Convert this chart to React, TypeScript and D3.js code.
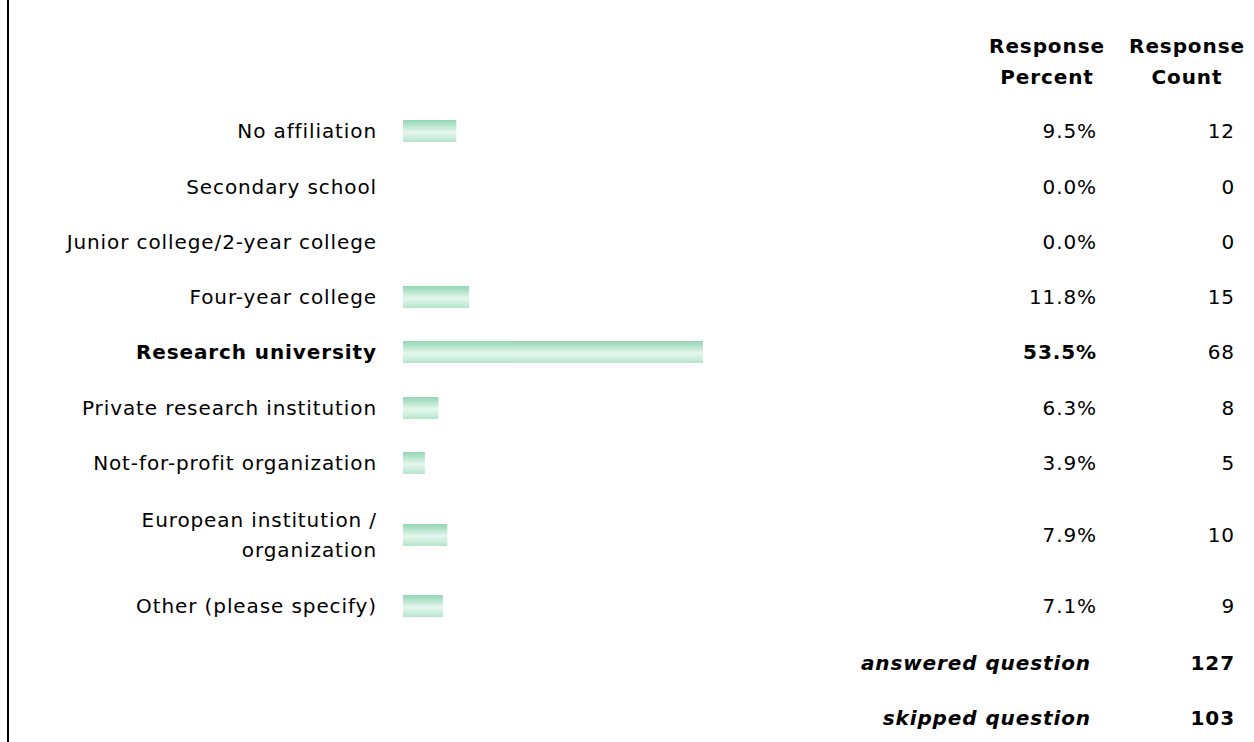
import React from "react";
import * as d3 from "d3";

const categories: string[][] = [
  ["No affiliation"],
  ["Secondary school"],
  ["Junior college/2-year college"],
  ["Four-year college"],
  ["Research university"],
  ["Private research institution"],
  ["Not-for-profit organization"],
  ["European institution /", "organization"],
  ["Other (please specify)"],
];
const percents: number[] = [9.5, 0.0, 0.0, 11.8, 53.5, 6.3, 3.9, 7.9, 7.1];
const counts: number[] = [12, 0, 0, 15, 68, 8, 5, 10, 9];
const summaryLabels: string[] = ["answered question", "skipped question"];
const summaryValues: number[] = [127, 103];
const headers: string[][] = [["Response", "Percent"], ["Response", "Count"]];

const W = 1254;
const H = 742;
const FONT = "'DejaVu Sans', Verdana, sans-serif";
const FS = 20;
const LS = 0.9;

export default function App() {
  const rowCenters = [131, 187, 242, 297, 352, 408, 463, 535, 606];
  const x = d3.scaleLinear().domain([0, d3.max(percents) as number]).range([0, 300]);
  const maxIdx = percents.indexOf(d3.max(percents) as number);
  const barX = 403;
  const barH = 22;
  const labelX = 377;
  const pctX = 1097;
  const cntX = 1235;
  const summaryY = [663, 718];

  return (
    <svg
      width={W}
      height={H}
      style={{ position: "absolute", left: 0, top: 0, background: "#fff", letterSpacing: LS }}
      fontFamily={FONT}
      fontSize={FS}
    >
      <defs>
        <linearGradient id="barGrad" x1="0" y1="0" x2="0" y2="1">
          <stop offset="0%" stopColor="#94d6b6" />
          <stop offset="25%" stopColor="#b6e4cd" />
          <stop offset="55%" stopColor="#e4f7ed" />
          <stop offset="80%" stopColor="#cdeedd" />
          <stop offset="100%" stopColor="#b3e3cb" />
        </linearGradient>
      </defs>
      <rect x={0} y={0} width={W} height={H} fill="#fff" />
      <line x1={8} y1={0} x2={8} y2={H} stroke="#000" strokeWidth={2} />

      {headers.map((h, i) => (
        <g key={i}>
          {h.map((t, j) => (
            <text
              key={j}
              x={i === 0 ? 1047 : 1187}
              y={46 + j * 31}
              dy="0.35em"
              textAnchor="middle"
              fontWeight="bold"
            >
              {t}
            </text>
          ))}
        </g>
      ))}

      {categories.map((lines, i) => {
        const cy = rowCenters[i];
        const bold = i === maxIdx;
        const w = x(percents[i]);
        return (
          <g key={i}>
            {lines.map((t, j) => (
              <text
                key={j}
                x={labelX}
                y={cy + (j - (lines.length - 1) / 2) * 30}
                dy="0.35em"
                textAnchor="end"
                fontWeight={bold ? "bold" : "normal"}
              >
                {t}
              </text>
            ))}
            {w > 0 && (
              <rect x={barX} y={cy - barH / 2} width={w} height={barH} fill="url(#barGrad)" />
            )}
            <text
              x={pctX}
              y={cy}
              dy="0.35em"
              textAnchor="end"
              fontWeight={bold ? "bold" : "normal"}
            >
              {percents[i].toFixed(1) + "%"}
            </text>
            <text x={cntX} y={cy} dy="0.35em" textAnchor="end">
              {counts[i]}
            </text>
          </g>
        );
      })}

      {summaryLabels.map((t, i) => (
        <g key={i}>
          <text
            x={1091}
            y={summaryY[i]}
            dy="0.35em"
            textAnchor="end"
            fontWeight="bold"
            fontStyle="italic"
          >
            {t}
          </text>
          <text x={cntX} y={summaryY[i]} dy="0.35em" textAnchor="end" fontWeight="bold">
            {summaryValues[i]}
          </text>
        </g>
      ))}
    </svg>
  );
}
